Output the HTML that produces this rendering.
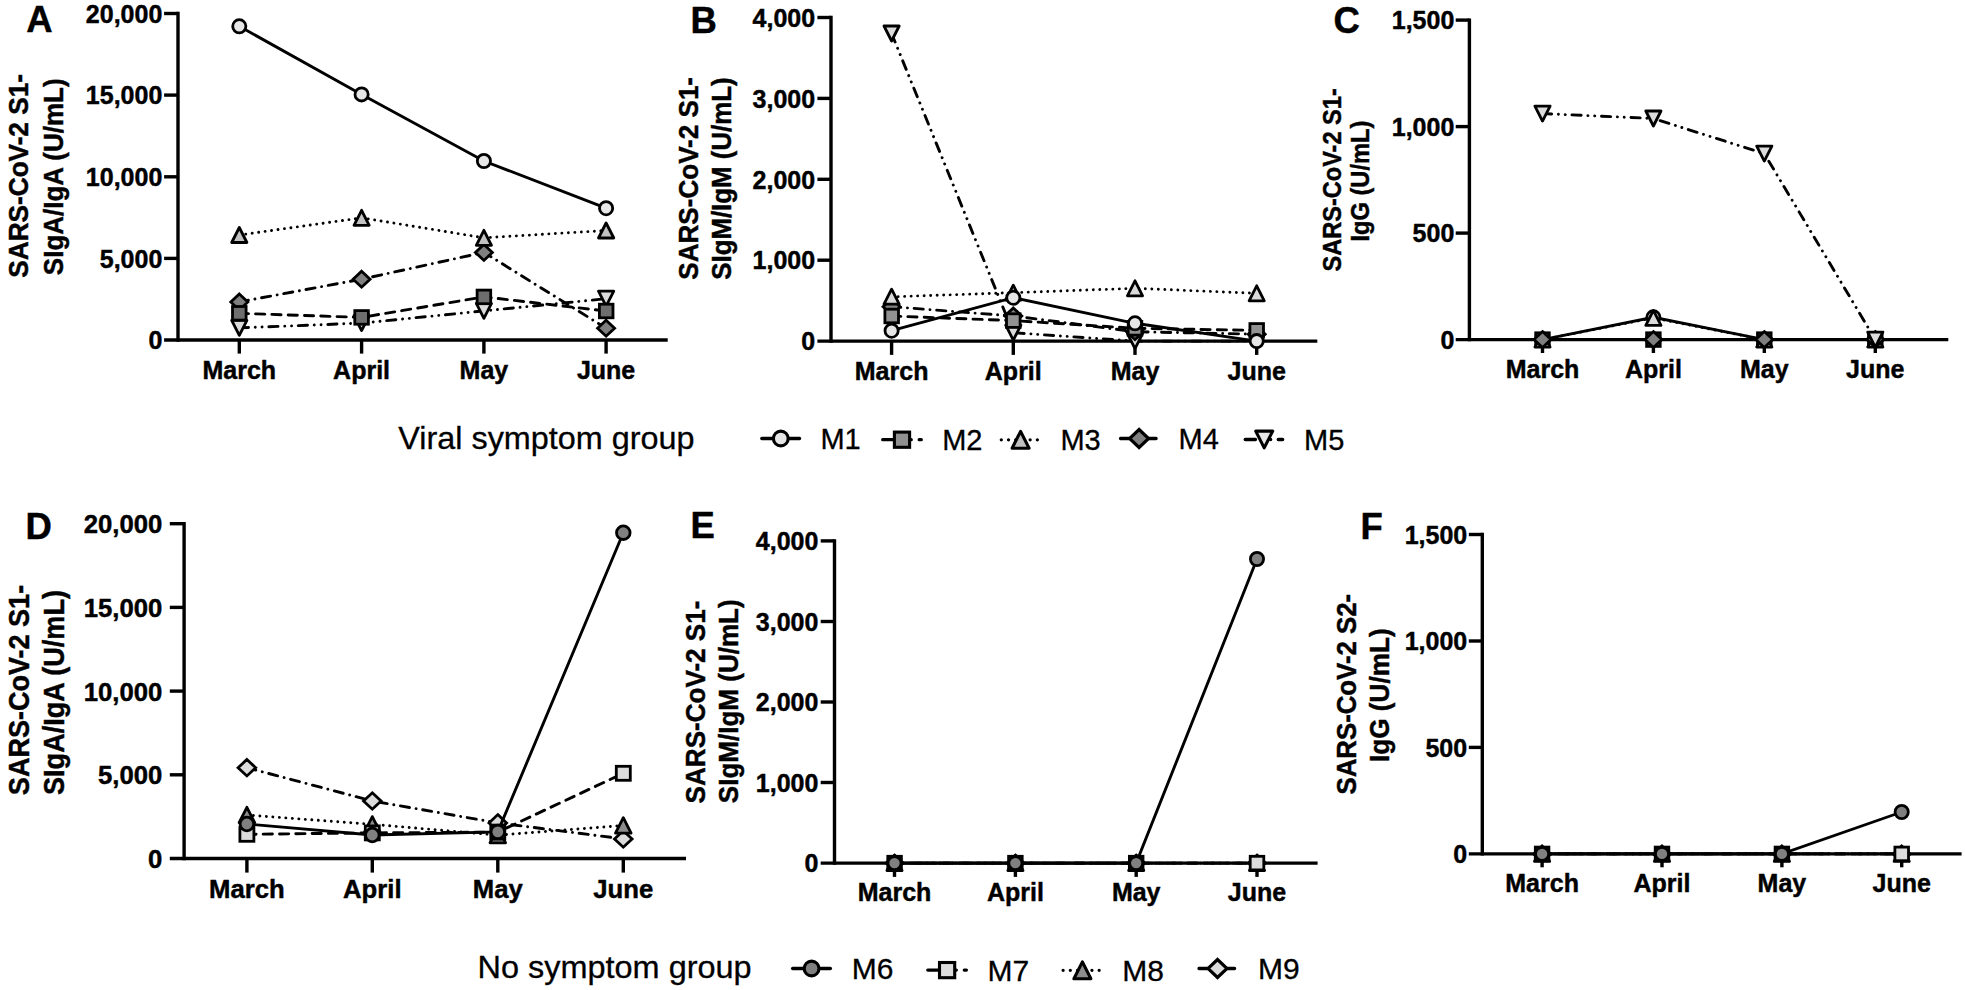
<!DOCTYPE html>
<html lang="en">
<head>
<meta charset="utf-8">
<title>Figure</title>
<style>
html,body{margin:0;padding:0;background:#fff;}
body{width:1965px;height:990px;overflow:hidden;}
svg{display:block;font-family:'Liberation Sans', Arial, Helvetica, sans-serif;}
text{fill:#000;}
text.lg{stroke:#000;stroke-width:0.3px;}
text[font-weight="700"]{stroke:#000;stroke-width:0.45px;stroke-linejoin:round;}
</style>
</head>
<body>
<svg width="1965" height="990" viewBox="0 0 1965 990">
<rect width="1965" height="990" fill="#fff"/>
<path d="M164.1,340.0 H667.7" stroke="#000" stroke-width="3.4" fill="none"/>
<path d="M178.0,341.7 V11.8" stroke="#000" stroke-width="3.4" fill="none"/>
<path d="M164.1,258.4 H178.0" stroke="#000" stroke-width="3.4"/>
<path d="M164.1,176.8 H178.0" stroke="#000" stroke-width="3.4"/>
<path d="M164.1,95.1 H178.0" stroke="#000" stroke-width="3.4"/>
<path d="M164.1,13.5 H178.0" stroke="#000" stroke-width="3.4"/>
<path d="M239.3,340.0 V353.6" stroke="#000" stroke-width="3.4"/>
<path d="M361.6,340.0 V353.6" stroke="#000" stroke-width="3.4"/>
<path d="M483.9,340.0 V353.6" stroke="#000" stroke-width="3.4"/>
<path d="M606.1,340.0 V353.6" stroke="#000" stroke-width="3.4"/>
<text x="162.3" y="349.1" font-size="25" font-weight="700" text-anchor="end">0</text>
<text x="162.3" y="267.5" font-size="25" font-weight="700" text-anchor="end">5,000</text>
<text x="162.3" y="185.9" font-size="25" font-weight="700" text-anchor="end">10,000</text>
<text x="162.3" y="104.3" font-size="25" font-weight="700" text-anchor="end">15,000</text>
<text x="162.3" y="22.6" font-size="25" font-weight="700" text-anchor="end">20,000</text>
<text x="239.3" y="378.5" font-size="25.0" font-weight="700" text-anchor="middle">March</text>
<text x="361.6" y="378.5" font-size="25.0" font-weight="700" text-anchor="middle">April</text>
<text x="483.9" y="378.5" font-size="25.0" font-weight="700" text-anchor="middle">May</text>
<text x="606.1" y="378.5" font-size="25.0" font-weight="700" text-anchor="middle">June</text>
<text x="26.2" y="32.4" font-size="36.5" font-weight="700">A</text>
<text transform="translate(28.4,175.9) rotate(-90)" font-size="28.17" font-weight="700" text-anchor="middle" textLength="203.7" lengthAdjust="spacingAndGlyphs">SARS-CoV-2 S1-</text>
<text transform="translate(62.7,176.8) rotate(-90)" font-size="28.17" font-weight="700" text-anchor="middle" textLength="196.7" lengthAdjust="spacingAndGlyphs">SIgA/IgA (U/mL)</text>
<polyline points="239.3,327.9 361.6,323.1 483.9,310.9 606.1,298.7" fill="none" stroke="#000" stroke-width="2.9" stroke-dasharray="9.2 6.75 0.01 6.8 0.01 6.75" stroke-linecap="round"/><polygon points="239.3,335.4 246.9,320.4 231.7,320.4" fill="#dcdcdc" stroke="#000" stroke-width="2.8" stroke-linejoin="round"/><polygon points="361.6,330.6 369.2,315.6 354.0,315.6" fill="#dcdcdc" stroke="#000" stroke-width="2.8" stroke-linejoin="round"/><polygon points="483.9,318.4 491.5,303.4 476.3,303.4" fill="#dcdcdc" stroke="#000" stroke-width="2.8" stroke-linejoin="round"/><polygon points="606.1,306.2 613.8,291.2 598.5,291.2" fill="#dcdcdc" stroke="#000" stroke-width="2.8" stroke-linejoin="round"/>
<polyline points="239.3,301.9 361.6,279.2 483.9,252.4 606.1,328.2" fill="none" stroke="#000" stroke-width="2.9" stroke-dasharray="9.2 6.7 0.01 6.7" stroke-linecap="round"/><polygon points="239.3,293.9 247.8,301.9 239.3,309.9 230.8,301.9" fill="#808080" stroke="#000" stroke-width="2.8"/><polygon points="361.6,271.2 370.1,279.2 361.6,287.2 353.1,279.2" fill="#808080" stroke="#000" stroke-width="2.8"/><polygon points="483.9,244.4 492.4,252.4 483.9,260.4 475.4,252.4" fill="#808080" stroke="#000" stroke-width="2.8"/><polygon points="606.1,320.2 614.6,328.2 606.1,336.2 597.6,328.2" fill="#808080" stroke="#000" stroke-width="2.8"/>
<polyline points="239.3,235.0 361.6,217.8 483.9,237.8 606.1,230.5" fill="none" stroke="#000" stroke-width="2.9" stroke-dasharray="0.01 6.5" stroke-linecap="round"/><polygon points="239.3,227.5 246.9,242.5 231.7,242.5" fill="#c2c2c2" stroke="#000" stroke-width="2.8" stroke-linejoin="round"/><polygon points="361.6,210.3 369.2,225.3 354.0,225.3" fill="#c2c2c2" stroke="#000" stroke-width="2.8" stroke-linejoin="round"/><polygon points="483.9,230.3 491.5,245.3 476.3,245.3" fill="#c2c2c2" stroke="#000" stroke-width="2.8" stroke-linejoin="round"/><polygon points="606.1,223.0 613.8,238.0 598.5,238.0" fill="#c2c2c2" stroke="#000" stroke-width="2.8" stroke-linejoin="round"/>
<polyline points="239.3,313.3 361.6,317.4 483.9,296.9 606.1,311.0" fill="none" stroke="#000" stroke-width="2.9" stroke-dasharray="9.2 7.1" stroke-linecap="round"/><rect x="232.5" y="306.5" width="13.6" height="13.6" fill="#6e6e6e" stroke="#000" stroke-width="2.8"/><rect x="354.8" y="310.6" width="13.6" height="13.6" fill="#6e6e6e" stroke="#000" stroke-width="2.8"/><rect x="477.1" y="290.1" width="13.6" height="13.6" fill="#6e6e6e" stroke="#000" stroke-width="2.8"/><rect x="599.4" y="304.2" width="13.6" height="13.6" fill="#6e6e6e" stroke="#000" stroke-width="2.8"/>
<polyline points="239.3,26.3 361.6,94.4 483.9,161.0 606.1,208.2" fill="none" stroke="#000" stroke-width="2.9"/><circle cx="239.3" cy="26.3" r="6.60" fill="#e6e6e6" stroke="#000" stroke-width="2.8"/><circle cx="361.6" cy="94.4" r="6.60" fill="#e6e6e6" stroke="#000" stroke-width="2.8"/><circle cx="483.9" cy="161.0" r="6.60" fill="#e6e6e6" stroke="#000" stroke-width="2.8"/><circle cx="606.1" cy="208.2" r="6.60" fill="#e6e6e6" stroke="#000" stroke-width="2.8"/>
<path d="M817.4,341.1 H1317.3" stroke="#000" stroke-width="3.4" fill="none"/>
<path d="M831.0,342.8 V15.8" stroke="#000" stroke-width="3.4" fill="none"/>
<path d="M817.4,260.2 H831.0" stroke="#000" stroke-width="3.4"/>
<path d="M817.4,179.3 H831.0" stroke="#000" stroke-width="3.4"/>
<path d="M817.4,98.4 H831.0" stroke="#000" stroke-width="3.4"/>
<path d="M817.4,17.5 H831.0" stroke="#000" stroke-width="3.4"/>
<path d="M891.6,341.1 V354.9" stroke="#000" stroke-width="3.4"/>
<path d="M1013.3,341.1 V354.9" stroke="#000" stroke-width="3.4"/>
<path d="M1135.0,341.1 V354.9" stroke="#000" stroke-width="3.4"/>
<path d="M1256.7,341.1 V354.9" stroke="#000" stroke-width="3.4"/>
<text x="815.1" y="350.2" font-size="25" font-weight="700" text-anchor="end">0</text>
<text x="815.1" y="269.4" font-size="25" font-weight="700" text-anchor="end">1,000</text>
<text x="815.1" y="188.5" font-size="25" font-weight="700" text-anchor="end">2,000</text>
<text x="815.1" y="107.6" font-size="25" font-weight="700" text-anchor="end">3,000</text>
<text x="815.1" y="26.6" font-size="25" font-weight="700" text-anchor="end">4,000</text>
<text x="891.6" y="379.9" font-size="25.0" font-weight="700" text-anchor="middle">March</text>
<text x="1013.3" y="379.9" font-size="25.0" font-weight="700" text-anchor="middle">April</text>
<text x="1135.0" y="379.9" font-size="25.0" font-weight="700" text-anchor="middle">May</text>
<text x="1256.7" y="379.9" font-size="25.0" font-weight="700" text-anchor="middle">June</text>
<text x="690.5" y="33.1" font-size="36.5" font-weight="700">B</text>
<text transform="translate(698.3,178.3) rotate(-90)" font-size="28.14" font-weight="700" text-anchor="middle" textLength="202.7" lengthAdjust="spacingAndGlyphs">SARS-CoV-2 S1-</text>
<text transform="translate(730.9,178.6) rotate(-90)" font-size="28.14" font-weight="700" text-anchor="middle" textLength="202.4" lengthAdjust="spacingAndGlyphs">SIgM/IgM (U/mL)</text>
<polyline points="891.6,33.5 1013.3,332.7 1135.0,341.1 1256.7,341.1" fill="none" stroke="#000" stroke-width="2.9" stroke-dasharray="9.2 6.75 0.01 6.8 0.01 6.75" stroke-linecap="round"/><polygon points="891.6,41.0 899.2,26.0 884.0,26.0" fill="#dcdcdc" stroke="#000" stroke-width="2.8" stroke-linejoin="round"/><polygon points="1013.3,340.2 1020.9,325.2 1005.7,325.2" fill="#dcdcdc" stroke="#000" stroke-width="2.8" stroke-linejoin="round"/><polygon points="1135.0,348.6 1142.6,333.6 1127.4,333.6" fill="#dcdcdc" stroke="#000" stroke-width="2.8" stroke-linejoin="round"/><polygon points="1256.7,348.6 1264.3,333.6 1249.1,333.6" fill="#dcdcdc" stroke="#000" stroke-width="2.8" stroke-linejoin="round"/>
<polyline points="891.6,306.7 1013.3,316.0 1135.0,331.7 1256.7,334.2" fill="none" stroke="#000" stroke-width="2.9" stroke-dasharray="9.2 6.7 0.01 6.7" stroke-linecap="round"/><polygon points="891.6,298.7 900.1,306.7 891.6,314.7 883.1,306.7" fill="#808080" stroke="#000" stroke-width="2.8"/><polygon points="1013.3,308.0 1021.8,316.0 1013.3,324.0 1004.8,316.0" fill="#808080" stroke="#000" stroke-width="2.8"/><polygon points="1135.0,323.7 1143.5,331.7 1135.0,339.7 1126.5,331.7" fill="#808080" stroke="#000" stroke-width="2.8"/><polygon points="1256.7,326.2 1265.2,334.2 1256.7,342.2 1248.2,334.2" fill="#808080" stroke="#000" stroke-width="2.8"/>
<polyline points="891.6,296.8 1013.3,292.7 1135.0,288.3 1256.7,293.3" fill="none" stroke="#000" stroke-width="2.9" stroke-dasharray="0.01 6.5" stroke-linecap="round"/><polygon points="891.6,289.2 899.2,304.2 884.0,304.2" fill="#dadada" stroke="#000" stroke-width="2.8" stroke-linejoin="round"/><polygon points="1013.3,285.2 1020.9,300.2 1005.7,300.2" fill="#dadada" stroke="#000" stroke-width="2.8" stroke-linejoin="round"/><polygon points="1135.0,280.8 1142.6,295.8 1127.4,295.8" fill="#dadada" stroke="#000" stroke-width="2.8" stroke-linejoin="round"/><polygon points="1256.7,285.8 1264.3,300.8 1249.1,300.8" fill="#dadada" stroke="#000" stroke-width="2.8" stroke-linejoin="round"/>
<polyline points="891.6,316.0 1013.3,320.6 1135.0,328.3 1256.7,330.4" fill="none" stroke="#000" stroke-width="2.9" stroke-dasharray="9.2 7.1" stroke-linecap="round"/><rect x="884.9" y="309.2" width="13.6" height="13.6" fill="#929292" stroke="#000" stroke-width="2.8"/><rect x="1006.5" y="313.8" width="13.6" height="13.6" fill="#929292" stroke="#000" stroke-width="2.8"/><rect x="1128.2" y="321.5" width="13.6" height="13.6" fill="#929292" stroke="#000" stroke-width="2.8"/><rect x="1249.9" y="323.6" width="13.6" height="13.6" fill="#929292" stroke="#000" stroke-width="2.8"/>
<polyline points="891.6,330.7 1013.3,297.7 1135.0,323.3 1256.7,341.1" fill="none" stroke="#000" stroke-width="2.9"/><circle cx="891.6" cy="330.7" r="6.60" fill="#e6e6e6" stroke="#000" stroke-width="2.8"/><circle cx="1013.3" cy="297.7" r="6.60" fill="#e6e6e6" stroke="#000" stroke-width="2.8"/><circle cx="1135.0" cy="323.3" r="6.60" fill="#e6e6e6" stroke="#000" stroke-width="2.8"/><circle cx="1256.7" cy="341.1" r="6.60" fill="#e6e6e6" stroke="#000" stroke-width="2.8"/>
<path d="M1455.7,339.6 H1948.3" stroke="#000" stroke-width="3.4" fill="none"/>
<path d="M1469.4,341.3 V18.4" stroke="#000" stroke-width="3.4" fill="none"/>
<path d="M1455.7,233.1 H1469.4" stroke="#000" stroke-width="3.4"/>
<path d="M1455.7,126.6 H1469.4" stroke="#000" stroke-width="3.4"/>
<path d="M1455.7,20.1 H1469.4" stroke="#000" stroke-width="3.4"/>
<path d="M1542.5,339.6 V353.0" stroke="#000" stroke-width="3.4"/>
<path d="M1653.4,339.6 V353.0" stroke="#000" stroke-width="3.4"/>
<path d="M1764.3,339.6 V353.0" stroke="#000" stroke-width="3.4"/>
<path d="M1875.3,339.6 V353.0" stroke="#000" stroke-width="3.4"/>
<text x="1454.3" y="348.8" font-size="25" font-weight="700" text-anchor="end">0</text>
<text x="1454.3" y="242.3" font-size="25" font-weight="700" text-anchor="end">500</text>
<text x="1454.3" y="135.8" font-size="25" font-weight="700" text-anchor="end">1,000</text>
<text x="1454.3" y="29.3" font-size="25" font-weight="700" text-anchor="end">1,500</text>
<text x="1542.5" y="377.8" font-size="25.0" font-weight="700" text-anchor="middle">March</text>
<text x="1653.4" y="377.8" font-size="25.0" font-weight="700" text-anchor="middle">April</text>
<text x="1764.3" y="377.8" font-size="25.0" font-weight="700" text-anchor="middle">May</text>
<text x="1875.3" y="377.8" font-size="25.0" font-weight="700" text-anchor="middle">June</text>
<text x="1333.6" y="33.1" font-size="36.5" font-weight="700">C</text>
<text transform="translate(1340.7,179.9) rotate(-90)" font-size="25.57" font-weight="700" text-anchor="middle" textLength="183.3" lengthAdjust="spacingAndGlyphs">SARS-CoV-2 S1-</text>
<text transform="translate(1369.0,181.1) rotate(-90)" font-size="25.57" font-weight="700" text-anchor="middle" textLength="121.0" lengthAdjust="spacingAndGlyphs">IgG (U/mL)</text>
<polyline points="1542.5,339.6 1653.4,317.3 1764.3,339.6 1875.3,339.6" fill="none" stroke="#000" stroke-width="2.9"/><circle cx="1542.5" cy="339.6" r="6.60" fill="#e6e6e6" stroke="#000" stroke-width="2.8"/><circle cx="1653.4" cy="317.3" r="6.60" fill="#e6e6e6" stroke="#000" stroke-width="2.8"/><circle cx="1764.3" cy="339.6" r="6.60" fill="#e6e6e6" stroke="#000" stroke-width="2.8"/><circle cx="1875.3" cy="339.6" r="6.60" fill="#e6e6e6" stroke="#000" stroke-width="2.8"/>
<polyline points="1542.5,339.6 1653.4,339.6 1764.3,339.6 1875.3,339.6" fill="none" stroke="#000" stroke-width="2.9" stroke-dasharray="9.2 7.1" stroke-linecap="round"/><rect x="1535.7" y="332.8" width="13.6" height="13.6" fill="#929292" stroke="#000" stroke-width="2.8"/><rect x="1646.6" y="332.8" width="13.6" height="13.6" fill="#929292" stroke="#000" stroke-width="2.8"/><rect x="1757.5" y="332.8" width="13.6" height="13.6" fill="#929292" stroke="#000" stroke-width="2.8"/><rect x="1868.5" y="332.8" width="13.6" height="13.6" fill="#929292" stroke="#000" stroke-width="2.8"/>
<polyline points="1542.5,339.6 1653.4,317.9 1764.3,339.6 1875.3,339.6" fill="none" stroke="#000" stroke-width="2.9" stroke-dasharray="0.01 6.5" stroke-linecap="round"/><polygon points="1542.5,332.1 1550.1,347.1 1534.9,347.1" fill="#dadada" stroke="#000" stroke-width="2.8" stroke-linejoin="round"/><polygon points="1653.4,310.4 1661.0,325.4 1645.8,325.4" fill="#dadada" stroke="#000" stroke-width="2.8" stroke-linejoin="round"/><polygon points="1764.3,332.1 1771.9,347.1 1756.7,347.1" fill="#dadada" stroke="#000" stroke-width="2.8" stroke-linejoin="round"/><polygon points="1875.3,332.1 1882.9,347.1 1867.7,347.1" fill="#dadada" stroke="#000" stroke-width="2.8" stroke-linejoin="round"/>
<polyline points="1542.5,339.6 1653.4,339.6 1764.3,339.6 1875.3,339.6" fill="none" stroke="#000" stroke-width="2.9" stroke-dasharray="9.2 6.7 0.01 6.7" stroke-linecap="round"/><polygon points="1542.5,331.6 1551.0,339.6 1542.5,347.6 1534.0,339.6" fill="#808080" stroke="#000" stroke-width="2.8"/><polygon points="1653.4,331.6 1661.9,339.6 1653.4,347.6 1644.9,339.6" fill="#808080" stroke="#000" stroke-width="2.8"/><polygon points="1764.3,331.6 1772.8,339.6 1764.3,347.6 1755.8,339.6" fill="#808080" stroke="#000" stroke-width="2.8"/><polygon points="1875.3,331.6 1883.8,339.6 1875.3,347.6 1866.8,339.6" fill="#808080" stroke="#000" stroke-width="2.8"/>
<polyline points="1542.5,113.6 1653.4,118.5 1764.3,153.6 1875.3,339.6" fill="none" stroke="#000" stroke-width="2.9" stroke-dasharray="9.2 6.75 0.01 6.8 0.01 6.75" stroke-linecap="round"/><polygon points="1542.5,121.1 1550.1,106.1 1534.9,106.1" fill="#dcdcdc" stroke="#000" stroke-width="2.8" stroke-linejoin="round"/><polygon points="1653.4,126.0 1661.0,111.0 1645.8,111.0" fill="#dcdcdc" stroke="#000" stroke-width="2.8" stroke-linejoin="round"/><polygon points="1764.3,161.1 1771.9,146.1 1756.7,146.1" fill="#dcdcdc" stroke="#000" stroke-width="2.8" stroke-linejoin="round"/><polygon points="1875.3,347.1 1882.9,332.1 1867.7,332.1" fill="#dcdcdc" stroke="#000" stroke-width="2.8" stroke-linejoin="round"/>
<path d="M169.8,858.5 H686.0" stroke="#000" stroke-width="3.4" fill="none"/>
<path d="M184.1,860.2 V522.0" stroke="#000" stroke-width="3.4" fill="none"/>
<path d="M169.8,774.8 H184.1" stroke="#000" stroke-width="3.4"/>
<path d="M169.8,691.1 H184.1" stroke="#000" stroke-width="3.4"/>
<path d="M169.8,607.4 H184.1" stroke="#000" stroke-width="3.4"/>
<path d="M169.8,523.7 H184.1" stroke="#000" stroke-width="3.4"/>
<path d="M246.9,858.5 V872.6" stroke="#000" stroke-width="3.4"/>
<path d="M372.3,858.5 V872.6" stroke="#000" stroke-width="3.4"/>
<path d="M497.8,858.5 V872.6" stroke="#000" stroke-width="3.4"/>
<path d="M623.3,858.5 V872.6" stroke="#000" stroke-width="3.4"/>
<text x="162.3" y="867.9" font-size="25.7" font-weight="700" text-anchor="end">0</text>
<text x="162.3" y="784.2" font-size="25.7" font-weight="700" text-anchor="end">5,000</text>
<text x="162.3" y="700.5" font-size="25.7" font-weight="700" text-anchor="end">10,000</text>
<text x="162.3" y="616.8" font-size="25.7" font-weight="700" text-anchor="end">15,000</text>
<text x="162.3" y="533.1" font-size="25.7" font-weight="700" text-anchor="end">20,000</text>
<text x="246.9" y="898.3" font-size="25.7" font-weight="700" text-anchor="middle">March</text>
<text x="372.3" y="898.3" font-size="25.7" font-weight="700" text-anchor="middle">April</text>
<text x="497.8" y="898.3" font-size="25.7" font-weight="700" text-anchor="middle">May</text>
<text x="623.3" y="898.3" font-size="25.7" font-weight="700" text-anchor="middle">June</text>
<text x="25.6" y="538.7" font-size="36.5" font-weight="700">D</text>
<text transform="translate(29.1,690.0) rotate(-90)" font-size="29.20" font-weight="700" text-anchor="middle" textLength="210.3" lengthAdjust="spacingAndGlyphs">SARS-CoV-2 S1-</text>
<text transform="translate(64.1,692.5) rotate(-90)" font-size="29.20" font-weight="700" text-anchor="middle" textLength="204.9" lengthAdjust="spacingAndGlyphs">SIgA/IgA (U/mL)</text>
<polyline points="246.9,767.7 372.3,801.0 497.8,822.9 623.3,838.9" fill="none" stroke="#000" stroke-width="2.9" stroke-dasharray="9.2 6.7 0.01 6.7" stroke-linecap="round"/><polygon points="246.9,759.5 255.7,767.7 246.9,775.9 238.1,767.7" fill="#dcdcdc" stroke="#000" stroke-width="2.8"/><polygon points="372.3,792.8 381.1,801.0 372.3,809.2 363.5,801.0" fill="#dcdcdc" stroke="#000" stroke-width="2.8"/><polygon points="497.8,814.6 506.6,822.9 497.8,831.1 489.0,822.9" fill="#dcdcdc" stroke="#000" stroke-width="2.8"/><polygon points="623.3,830.7 632.1,838.9 623.3,847.2 614.5,838.9" fill="#dcdcdc" stroke="#000" stroke-width="2.8"/>
<polyline points="246.9,815.0 372.3,824.3 497.8,835.1 623.3,825.5" fill="none" stroke="#000" stroke-width="2.9" stroke-dasharray="0.01 6.5" stroke-linecap="round"/><polygon points="246.9,807.3 254.7,822.7 239.1,822.7" fill="#8c8c8c" stroke="#000" stroke-width="2.8" stroke-linejoin="round"/><polygon points="372.3,816.6 380.1,832.1 364.5,832.1" fill="#8c8c8c" stroke="#000" stroke-width="2.8" stroke-linejoin="round"/><polygon points="497.8,827.4 505.6,842.8 490.0,842.8" fill="#8c8c8c" stroke="#000" stroke-width="2.8" stroke-linejoin="round"/><polygon points="623.3,817.7 631.1,833.2 615.5,833.2" fill="#8c8c8c" stroke="#000" stroke-width="2.8" stroke-linejoin="round"/>
<polyline points="246.9,834.3 372.3,832.9 497.8,832.1 623.3,773.3" fill="none" stroke="#000" stroke-width="2.9" stroke-dasharray="9.2 7.1" stroke-linecap="round"/><rect x="239.9" y="827.3" width="14.0" height="14.0" fill="#dcdcdc" stroke="#000" stroke-width="2.8"/><rect x="365.3" y="825.9" width="14.0" height="14.0" fill="#dcdcdc" stroke="#000" stroke-width="2.8"/><rect x="490.8" y="825.1" width="14.0" height="14.0" fill="#dcdcdc" stroke="#000" stroke-width="2.8"/><rect x="616.3" y="766.3" width="14.0" height="14.0" fill="#dcdcdc" stroke="#000" stroke-width="2.8"/>
<polyline points="246.9,824.0 372.3,835.0 497.8,831.9 623.3,532.7" fill="none" stroke="#000" stroke-width="2.9"/><circle cx="246.9" cy="824.0" r="6.80" fill="#808080" stroke="#000" stroke-width="2.8"/><circle cx="372.3" cy="835.0" r="6.80" fill="#808080" stroke="#000" stroke-width="2.8"/><circle cx="497.8" cy="831.9" r="6.80" fill="#808080" stroke="#000" stroke-width="2.8"/><circle cx="623.3" cy="532.7" r="6.80" fill="#808080" stroke="#000" stroke-width="2.8"/>
<path d="M820.7,863.1 H1317.6" stroke="#000" stroke-width="3.4" fill="none"/>
<path d="M834.5,864.8 V539.2" stroke="#000" stroke-width="3.4" fill="none"/>
<path d="M820.7,782.5 H834.5" stroke="#000" stroke-width="3.4"/>
<path d="M820.7,702.0 H834.5" stroke="#000" stroke-width="3.4"/>
<path d="M820.7,621.5 H834.5" stroke="#000" stroke-width="3.4"/>
<path d="M820.7,540.9 H834.5" stroke="#000" stroke-width="3.4"/>
<path d="M894.5,863.1 V876.9" stroke="#000" stroke-width="3.4"/>
<path d="M1015.4,863.1 V876.9" stroke="#000" stroke-width="3.4"/>
<path d="M1136.2,863.1 V876.9" stroke="#000" stroke-width="3.4"/>
<path d="M1257.0,863.1 V876.9" stroke="#000" stroke-width="3.4"/>
<text x="818.4" y="872.2" font-size="25" font-weight="700" text-anchor="end">0</text>
<text x="818.4" y="791.7" font-size="25" font-weight="700" text-anchor="end">1,000</text>
<text x="818.4" y="711.1" font-size="25" font-weight="700" text-anchor="end">2,000</text>
<text x="818.4" y="630.6" font-size="25" font-weight="700" text-anchor="end">3,000</text>
<text x="818.4" y="550.0" font-size="25" font-weight="700" text-anchor="end">4,000</text>
<text x="894.5" y="901.3" font-size="25.0" font-weight="700" text-anchor="middle">March</text>
<text x="1015.4" y="901.3" font-size="25.0" font-weight="700" text-anchor="middle">April</text>
<text x="1136.2" y="901.3" font-size="25.0" font-weight="700" text-anchor="middle">May</text>
<text x="1257.0" y="901.3" font-size="25.0" font-weight="700" text-anchor="middle">June</text>
<text x="690.5" y="537.7" font-size="36.5" font-weight="700">E</text>
<text transform="translate(705.0,702.0) rotate(-90)" font-size="28.31" font-weight="700" text-anchor="middle" textLength="202.9" lengthAdjust="spacingAndGlyphs">SARS-CoV-2 S1-</text>
<text transform="translate(737.8,701.3) rotate(-90)" font-size="28.31" font-weight="700" text-anchor="middle" textLength="203.8" lengthAdjust="spacingAndGlyphs">SIgM/IgM (U/mL)</text>
<polyline points="894.5,863.1 1015.4,863.1 1136.2,863.1 1257.0,863.1" fill="none" stroke="#000" stroke-width="2.9" stroke-dasharray="9.2 6.7 0.01 6.7" stroke-linecap="round"/><polygon points="894.5,855.1 903.0,863.1 894.5,871.1 886.0,863.1" fill="#dcdcdc" stroke="#000" stroke-width="2.8"/><polygon points="1015.4,855.1 1023.9,863.1 1015.4,871.1 1006.9,863.1" fill="#dcdcdc" stroke="#000" stroke-width="2.8"/><polygon points="1136.2,855.1 1144.7,863.1 1136.2,871.1 1127.7,863.1" fill="#dcdcdc" stroke="#000" stroke-width="2.8"/><polygon points="1257.0,855.1 1265.5,863.1 1257.0,871.1 1248.5,863.1" fill="#dcdcdc" stroke="#000" stroke-width="2.8"/>
<polyline points="894.5,863.1 1015.4,863.1 1136.2,863.1 1257.0,863.1" fill="none" stroke="#000" stroke-width="2.9" stroke-dasharray="0.01 6.5" stroke-linecap="round"/><polygon points="894.5,855.6 902.1,870.6 886.9,870.6" fill="#8c8c8c" stroke="#000" stroke-width="2.8" stroke-linejoin="round"/><polygon points="1015.4,855.6 1023.0,870.6 1007.8,870.6" fill="#8c8c8c" stroke="#000" stroke-width="2.8" stroke-linejoin="round"/><polygon points="1136.2,855.6 1143.8,870.6 1128.6,870.6" fill="#8c8c8c" stroke="#000" stroke-width="2.8" stroke-linejoin="round"/><polygon points="1257.0,855.6 1264.6,870.6 1249.4,870.6" fill="#8c8c8c" stroke="#000" stroke-width="2.8" stroke-linejoin="round"/>
<polyline points="894.5,863.1 1015.4,863.1 1136.2,863.1 1257.0,863.1" fill="none" stroke="#000" stroke-width="2.9" stroke-dasharray="9.2 7.1" stroke-linecap="round"/><rect x="887.8" y="856.3" width="13.6" height="13.6" fill="#dcdcdc" stroke="#000" stroke-width="2.8"/><rect x="1008.6" y="856.3" width="13.6" height="13.6" fill="#dcdcdc" stroke="#000" stroke-width="2.8"/><rect x="1129.4" y="856.3" width="13.6" height="13.6" fill="#dcdcdc" stroke="#000" stroke-width="2.8"/><rect x="1250.2" y="856.3" width="13.6" height="13.6" fill="#dcdcdc" stroke="#000" stroke-width="2.8"/>
<polyline points="894.5,863.1 1015.4,863.1 1136.2,863.1 1257.0,559.0" fill="none" stroke="#000" stroke-width="2.9"/><circle cx="894.5" cy="863.1" r="6.60" fill="#808080" stroke="#000" stroke-width="2.8"/><circle cx="1015.4" cy="863.1" r="6.60" fill="#808080" stroke="#000" stroke-width="2.8"/><circle cx="1136.2" cy="863.1" r="6.60" fill="#808080" stroke="#000" stroke-width="2.8"/><circle cx="1257.0" cy="559.0" r="6.60" fill="#808080" stroke="#000" stroke-width="2.8"/>
<path d="M1468.8,853.9 H1961.6" stroke="#000" stroke-width="3.4" fill="none"/>
<path d="M1482.3,855.6 V532.8" stroke="#000" stroke-width="3.4" fill="none"/>
<path d="M1468.8,747.4 H1482.3" stroke="#000" stroke-width="3.4"/>
<path d="M1468.8,641.0 H1482.3" stroke="#000" stroke-width="3.4"/>
<path d="M1468.8,534.5 H1482.3" stroke="#000" stroke-width="3.4"/>
<path d="M1542.1,853.9 V867.3" stroke="#000" stroke-width="3.4"/>
<path d="M1662.0,853.9 V867.3" stroke="#000" stroke-width="3.4"/>
<path d="M1781.9,853.9 V867.3" stroke="#000" stroke-width="3.4"/>
<path d="M1901.7,853.9 V867.3" stroke="#000" stroke-width="3.4"/>
<text x="1467.2" y="863.0" font-size="25" font-weight="700" text-anchor="end">0</text>
<text x="1467.2" y="756.5" font-size="25" font-weight="700" text-anchor="end">500</text>
<text x="1467.2" y="650.1" font-size="25" font-weight="700" text-anchor="end">1,000</text>
<text x="1467.2" y="543.6" font-size="25" font-weight="700" text-anchor="end">1,500</text>
<text x="1542.1" y="892.3" font-size="25.0" font-weight="700" text-anchor="middle">March</text>
<text x="1662.0" y="892.3" font-size="25.0" font-weight="700" text-anchor="middle">April</text>
<text x="1781.9" y="892.3" font-size="25.0" font-weight="700" text-anchor="middle">May</text>
<text x="1901.7" y="892.3" font-size="25.0" font-weight="700" text-anchor="middle">June</text>
<text x="1360.5" y="538.7" font-size="36.5" font-weight="700">F</text>
<text transform="translate(1356.0,694.2) rotate(-90)" font-size="27.98" font-weight="700" text-anchor="middle" textLength="200.6" lengthAdjust="spacingAndGlyphs">SARS-CoV-2 S2-</text>
<text transform="translate(1389.2,695.2) rotate(-90)" font-size="27.98" font-weight="700" text-anchor="middle" textLength="133.6" lengthAdjust="spacingAndGlyphs">IgG (U/mL)</text>
<polyline points="1542.1,853.9 1662.0,853.9 1781.9,853.9 1901.7,853.9" fill="none" stroke="#000" stroke-width="2.9" stroke-dasharray="9.2 6.7 0.01 6.7" stroke-linecap="round"/><polygon points="1542.1,845.9 1550.6,853.9 1542.1,861.9 1533.6,853.9" fill="#dcdcdc" stroke="#000" stroke-width="2.8"/><polygon points="1662.0,845.9 1670.5,853.9 1662.0,861.9 1653.5,853.9" fill="#dcdcdc" stroke="#000" stroke-width="2.8"/><polygon points="1781.9,845.9 1790.4,853.9 1781.9,861.9 1773.4,853.9" fill="#dcdcdc" stroke="#000" stroke-width="2.8"/><polygon points="1901.7,845.9 1910.2,853.9 1901.7,861.9 1893.2,853.9" fill="#dcdcdc" stroke="#000" stroke-width="2.8"/>
<polyline points="1542.1,853.9 1662.0,853.9 1781.9,853.9 1901.7,853.9" fill="none" stroke="#000" stroke-width="2.9" stroke-dasharray="0.01 6.5" stroke-linecap="round"/><polygon points="1542.1,846.4 1549.7,861.4 1534.5,861.4" fill="#8c8c8c" stroke="#000" stroke-width="2.8" stroke-linejoin="round"/><polygon points="1662.0,846.4 1669.6,861.4 1654.4,861.4" fill="#8c8c8c" stroke="#000" stroke-width="2.8" stroke-linejoin="round"/><polygon points="1781.9,846.4 1789.5,861.4 1774.3,861.4" fill="#8c8c8c" stroke="#000" stroke-width="2.8" stroke-linejoin="round"/><polygon points="1901.7,846.4 1909.3,861.4 1894.1,861.4" fill="#8c8c8c" stroke="#000" stroke-width="2.8" stroke-linejoin="round"/>
<polyline points="1542.1,853.9 1662.0,853.9 1781.9,853.9 1901.7,853.9" fill="none" stroke="#000" stroke-width="2.9" stroke-dasharray="9.2 7.1" stroke-linecap="round"/><rect x="1535.3" y="847.1" width="13.6" height="13.6" fill="#dcdcdc" stroke="#000" stroke-width="2.8"/><rect x="1655.2" y="847.1" width="13.6" height="13.6" fill="#dcdcdc" stroke="#000" stroke-width="2.8"/><rect x="1775.1" y="847.1" width="13.6" height="13.6" fill="#dcdcdc" stroke="#000" stroke-width="2.8"/><rect x="1894.9" y="847.1" width="13.6" height="13.6" fill="#dcdcdc" stroke="#000" stroke-width="2.8"/>
<polyline points="1542.1,853.9 1662.0,853.9 1781.9,853.9 1901.7,812.0" fill="none" stroke="#000" stroke-width="2.9"/><circle cx="1542.1" cy="853.9" r="6.60" fill="#808080" stroke="#000" stroke-width="2.8"/><circle cx="1662.0" cy="853.9" r="6.60" fill="#808080" stroke="#000" stroke-width="2.8"/><circle cx="1781.9" cy="853.9" r="6.60" fill="#808080" stroke="#000" stroke-width="2.8"/><circle cx="1901.7" cy="812.0" r="6.60" fill="#808080" stroke="#000" stroke-width="2.8"/>
<text class="lg" x="398.3" y="449" font-size="32" textLength="296.3" lengthAdjust="spacingAndGlyphs">Viral symptom group</text>
<path d="M761.8,438.5 H799.6" stroke="#000" stroke-width="3.3" fill="none" stroke-linecap="round"/>
<circle cx="780.8" cy="438.5" r="7.39" fill="#e6e6e6" stroke="#000" stroke-width="3.1"/>
<text class="lg" x="820.4" y="448.9" font-size="29">M1</text>
<path d="M882.7,439.7 H921.3" stroke="#000" stroke-width="3.3" fill="none" stroke-linecap="round" stroke-dasharray="10.30 7.95"/>
<rect x="894.4" y="432.1" width="15.2" height="15.2" fill="#909090" stroke="#000" stroke-width="3.1"/>
<text class="lg" x="942.2" y="449.9" font-size="29">M2</text>
<path d="M1001.3,439.8 H1039.6" stroke="#000" stroke-width="3.3" fill="none" stroke-linecap="round" stroke-dasharray="0.01 7.2"/>
<polygon points="1020.6,431.4 1029.1,448.2 1012.1,448.2" fill="#c0c0c0" stroke="#000" stroke-width="3.1" stroke-linejoin="round"/>
<text class="lg" x="1060.4" y="449.6" font-size="29">M3</text>
<path d="M1120.5,438.5 H1156.3" stroke="#000" stroke-width="3.3" fill="none" stroke-linecap="round" stroke-dasharray="10.3 7.5 0.01 7.5"/>
<polygon points="1139.1,429.5 1148.6,438.5 1139.1,447.5 1129.6,438.5" fill="#808080" stroke="#000" stroke-width="3.1"/>
<text class="lg" x="1178.6" y="448.9" font-size="29">M4</text>
<path d="M1245.2,439.5 H1282.7" stroke="#000" stroke-width="3.3" fill="none" stroke-linecap="round" stroke-dasharray="10.3 7.56 0.01 7.6 0.01 7.56"/>
<polygon points="1264.2,447.9 1272.7,431.1 1255.7,431.1" fill="#e8e8e8" stroke="#000" stroke-width="3.1" stroke-linejoin="round"/>
<text class="lg" x="1304.1" y="450.0" font-size="29">M5</text>
<text class="lg" x="477.6" y="977.8" font-size="31.7" textLength="274" lengthAdjust="spacingAndGlyphs">No symptom group</text>
<path d="M792.6,968.5 H830.4" stroke="#000" stroke-width="3.3" fill="none" stroke-linecap="round"/>
<circle cx="811.6" cy="968.5" r="7.39" fill="#808080" stroke="#000" stroke-width="3.1"/>
<text class="lg" x="851.8" y="979.0" font-size="30">M6</text>
<path d="M927.8,970.1 H966.4" stroke="#000" stroke-width="3.3" fill="none" stroke-linecap="round" stroke-dasharray="10.30 7.95"/>
<rect x="939.5" y="962.5" width="15.2" height="15.2" fill="#dcdcdc" stroke="#000" stroke-width="3.1"/>
<text class="lg" x="987.5" y="980.6" font-size="30">M7</text>
<path d="M1063.1,970.3 H1101.4" stroke="#000" stroke-width="3.3" fill="none" stroke-linecap="round" stroke-dasharray="0.01 7.2"/>
<polygon points="1082.4,961.9 1090.9,978.7 1073.9,978.7" fill="#8c8c8c" stroke="#000" stroke-width="3.1" stroke-linejoin="round"/>
<text class="lg" x="1122.3" y="980.6" font-size="30">M8</text>
<path d="M1199.0,968.5 H1234.7" stroke="#000" stroke-width="3.3" fill="none" stroke-linecap="round" stroke-dasharray="10.3 7.5 0.01 7.5"/>
<polygon points="1217.5,959.5 1227.0,968.5 1217.5,977.5 1208.0,968.5" fill="#dcdcdc" stroke="#000" stroke-width="3.1"/>
<text class="lg" x="1258.0" y="979.0" font-size="30">M9</text>
</svg>
</body>
</html>
